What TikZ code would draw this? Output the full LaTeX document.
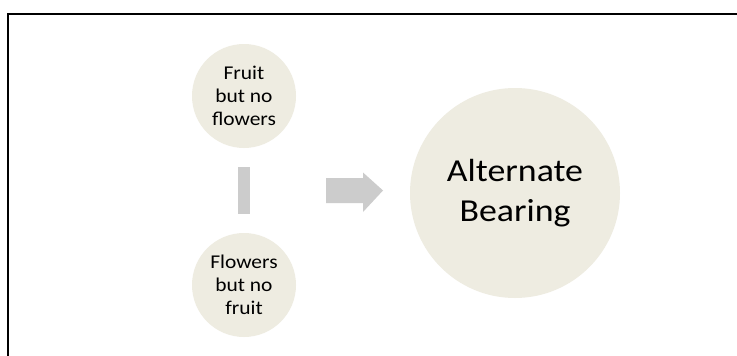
\documentclass[tikz,border=0pt]{standalone}
\usepackage{fontspec}
\setmainfont{Carlito}
\newfontfamily\smallwide[FakeStretch=1.1]{Carlito}
\newfontfamily\bigwide[FakeStretch=1.12]{Carlito}
\definecolor{circfill}{HTML}{EEECE1}
\definecolor{shapegray}{HTML}{CCCCCC}
\begin{document}
\begin{tikzpicture}[x=1pt,y=-1pt,
  smallcirc/.style={circle,fill=circfill,minimum size=104pt,inner sep=0pt,align=center,font=\smallwide\fontsize{19.5}{23}\selectfont},
  bigcirc/.style={circle,fill=circfill,minimum size=210pt,inner sep=0pt,align=center,font=\bigwide\fontsize{32}{39.5}\selectfont}]
\useasboundingbox (0,0) rectangle (737,356);
\fill[white] (0,0) rectangle (737,356);
\draw[line width=2pt] (8,358) -- (8,14) -- (739,14);
\node[smallcirc] (top) at (244,96) {Fruit\\but no\\flowers};
\node[smallcirc] (bot) at (244,285) {Flowers\\but no\\fruit};
\node[bigcirc] (ab) at (515,193) {Alternate\\Bearing};
\fill[shapegray] (237.5,167) rectangle (250,214);
\fill[shapegray] (326,178) -- (363,178) -- (363,172.5) -- (383,190.5) -- (363,212) -- (363,203) -- (326,203) -- cycle;
\end{tikzpicture}
\end{document}
